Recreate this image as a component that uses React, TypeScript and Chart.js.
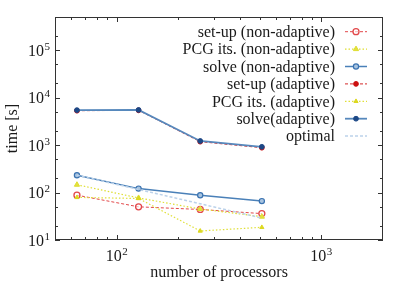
import React, { useEffect, useRef } from "react";
import { Chart, registerables } from "chart.js";
import { drawPoint } from "chart.js/helpers";

Chart.register(...registerables);

const processors = [64, 128, 256, 512];
const setupNonAdaptive = [88, 50, 44, 36];
const pcgNonAdaptive = [146, 77, 45, 31];
const solveNonAdaptive = [232, 121, 88, 66];
const setupAdaptive = [5300, 5400, 1180, 880];
const pcgAdaptive = [79, 75, 15.5, 18.5];
const solveAdaptive = [5450, 5500, 1220, 920];
const optimal = [232, 116, 58, 29];

const xMajorTicks = [100, 1000];
const xMinorTicks = [60, 70, 80, 90, 200, 300, 400, 500, 600, 700, 800, 900];
const yMajorTicks = [10, 100, 1000, 10000, 100000];
const yMinorTicks = [20, 50, 200, 500, 2000, 5000, 20000, 50000, 200000];

const xTitle = "number of processors";
const yTitle = "time [s]";

const FONT = "'Liberation Serif', 'DejaVu Serif', serif";
const TEXT = "#1a1a1a";

const toXY = (ys: number[]) => ys.map((y, i) => ({ x: processors[i], y }));

const expLabel = (v: number) => String(Math.round(Math.log10(v)));

const decorPlugin = {
  id: "decor",
  afterDraw(chart: any) {
    const ctx = chart.ctx as CanvasRenderingContext2D;
    const { left, right, top, bottom } = chart.chartArea;
    const xs = chart.scales.x;
    const ys = chart.scales.y;
    ctx.save();
    // border
    ctx.strokeStyle = "#333";
    ctx.lineWidth = 1;
    ctx.strokeRect(left + 0.5, top + 0.5, right - left - 1, bottom - top - 1);
    // ticks
    const tickX = (vals: number[], len: number) => {
      vals.forEach((v) => {
        const px = Math.round(xs.getPixelForValue(v)) + 0.5;
        ctx.beginPath();
        ctx.moveTo(px, bottom);
        ctx.lineTo(px, bottom - len);
        ctx.moveTo(px, top);
        ctx.lineTo(px, top + len);
        ctx.stroke();
      });
    };
    const tickY = (vals: number[], len: number) => {
      vals.forEach((v) => {
        const py = Math.round(ys.getPixelForValue(v)) + 0.5;
        ctx.beginPath();
        ctx.moveTo(left, py);
        ctx.lineTo(left + len, py);
        ctx.moveTo(right, py);
        ctx.lineTo(right - len, py);
        ctx.stroke();
      });
    };
    tickX(xMajorTicks, 5);
    tickX(xMinorTicks, 3);
    tickY(yMajorTicks, 5);
    tickY(yMinorTicks, 3);

    // tick labels 10^n
    ctx.fillStyle = TEXT;
    ctx.textBaseline = "alphabetic";
    const baseFont = `16px ${FONT}`;
    const supFont = `11px ${FONT}`;
    const drawPow = (xPos: number, yBase: number, exp: string, align: "center" | "right") => {
      ctx.font = baseFont;
      const w1 = ctx.measureText("10").width;
      ctx.font = supFont;
      const w2 = ctx.measureText(exp).width;
      const total = w1 + w2 + 0.5;
      const x0 = align === "center" ? xPos - total / 2 : xPos - total;
      ctx.textAlign = "left";
      ctx.font = baseFont;
      ctx.fillText("10", x0, yBase);
      ctx.font = supFont;
      ctx.fillText(exp, x0 + w1 + 0.5, yBase - 6);
    };
    xMajorTicks.forEach((v) => {
      drawPow(xs.getPixelForValue(v), bottom + 21, expLabel(v), "center");
    });
    yMajorTicks.forEach((v) => {
      drawPow(left - 5, ys.getPixelForValue(v) + 5.5, expLabel(v), "right");
    });

    // axis titles
    ctx.font = `16px ${FONT}`;
    ctx.textAlign = "center";
    ctx.textBaseline = "middle";
    ctx.fillText(xTitle, (left + right) / 2 - 0, 273);
    ctx.save();
    ctx.translate(13, (top + bottom) / 2);
    ctx.rotate(-Math.PI / 2);
    ctx.fillText(yTitle, 0, 0);
    ctx.restore();

    // legend
    const textRight = right - 48;
    const sampleL = right - 38;
    const sampleR = right - 16;
    const rowTop = top + 14.7;
    const rowH = 17.4;
    chart.data.datasets.forEach((ds: any, i: number) => {
      const y = rowTop + i * rowH;
      ctx.font = `16px ${FONT}`;
      ctx.textAlign = "right";
      ctx.textBaseline = "middle";
      ctx.fillStyle = TEXT;
      ctx.fillText(ds.label, textRight, y + 1);
      ctx.save();
      ctx.strokeStyle = ds.borderColor;
      ctx.lineWidth = ds.borderWidth;
      ctx.setLineDash(ds.borderDash || []);
      ctx.beginPath();
      ctx.moveTo(sampleL, y);
      ctx.lineTo(sampleR, y);
      ctx.stroke();
      ctx.restore();
      if (ds.pointRadius > 0) {
        ctx.save();
        ctx.fillStyle = ds.pointBackgroundColor;
        ctx.strokeStyle = ds.pointBorderColor;
        ctx.lineWidth = ds.pointBorderWidth;
        drawPoint(ctx, { pointStyle: ds.pointStyle, radius: ds.pointRadius, rotation: 0, borderWidth: ds.pointBorderWidth }, (sampleL + sampleR) / 2, y);
        ctx.restore();
      }
    });
    ctx.restore();
  },
};

export default function App() {
  const ref = useRef<HTMLCanvasElement | null>(null);
  useEffect(() => {
    document.body.style.margin = "0";
    const canvas = ref.current!;
    const series = [
      { label: "set-up (non-adaptive)", data: setupNonAdaptive, color: "#e2484a", dash: [3, 2], width: 1, style: "circle", r: 3, bg: "rgba(255,255,255,0.6)", pb: "#e2484a", pbw: 1.3 },
      { label: "PCG its. (non-adaptive)", data: pcgNonAdaptive, color: "#dede30", dash: [1.5, 2], width: 1.2, style: "triangle", r: 3, bg: "#e4e040", pb: "#dede30", pbw: 1 },
      { label: "solve (non-adaptive)", data: solveNonAdaptive, color: "#4a80b8", dash: [], width: 1.5, style: "circle", r: 2.6, bg: "#a8c4e0", pb: "#3a72b0", pbw: 1.2 },
      { label: "set-up (adaptive)", data: setupAdaptive, color: "#d42a2a", dash: [3, 2], width: 1, style: "circle", r: 2.4, bg: "#cc1010", pb: "#cc1010", pbw: 1 },
      { label: "PCG its. (adaptive)", data: pcgAdaptive, color: "#e0e038", dash: [1.5, 2], width: 1.2, style: "triangle", r: 2.4, bg: "#dcd820", pb: "#dcd820", pbw: 1 },
      { label: "solve(adaptive)", data: solveAdaptive, color: "#5688bc", dash: [], width: 1.8, style: "circle", r: 2.4, bg: "#1c4886", pb: "#1c4886", pbw: 1 },
      { label: "optimal", data: optimal, color: "#bcd2ea", dash: [3, 2], width: 1.5, style: "circle", r: 0, bg: "#bcd2ea", pb: "#bcd2ea", pbw: 0 },
    ];
    const n = series.length;
    const chart = new Chart(canvas, {
      type: "line",
      data: {
        datasets: series.map((s, i) => ({
          label: s.label,
          data: toXY(s.data),
          borderColor: s.color,
          borderDash: s.dash,
          borderWidth: s.width,
          pointStyle: s.style as any,
          pointRadius: s.r,
          pointBackgroundColor: s.bg,
          pointBorderColor: s.pb,
          pointBorderWidth: s.pbw,
          tension: 0,
          fill: false,
          order: n - i,
        })),
      },
      options: {
        animation: false,
        responsive: false,
        devicePixelRatio: 1,
        layout: { padding: { left: 55, right: 28, top: 17, bottom: 48 } },
        plugins: { legend: { display: false }, tooltip: { enabled: false } },
        scales: {
          x: { type: "logarithmic", min: 50, max: 2000, display: false },
          y: { type: "logarithmic", min: 10, max: 500000, display: false },
        },
      },
      plugins: [decorPlugin],
    });
    return () => chart.destroy();
  }, []);
  return <canvas ref={ref} width={411} height={288} style={{ display: "block" }} />;
}
